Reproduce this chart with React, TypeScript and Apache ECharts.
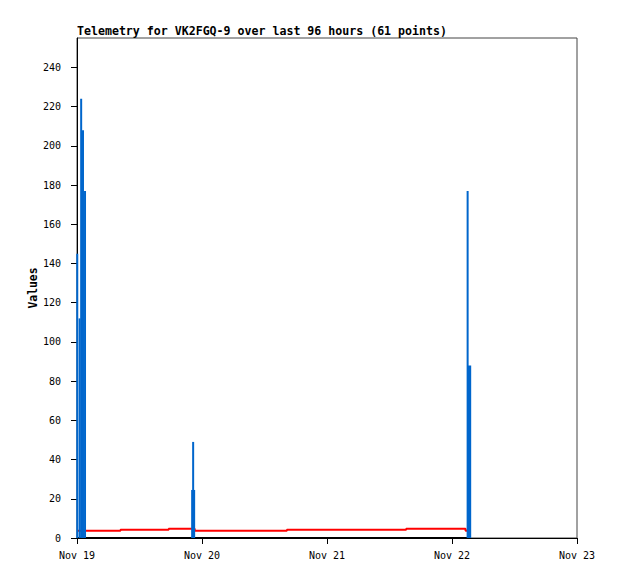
import React, { useEffect, useRef } from "react";
import * as echarts from "echarts";

// hours since Nov 19 00:00
const xTickHours = [0, 24, 48, 72, 96];
const xTickLabels = ["Nov 19", "Nov 20", "Nov 21", "Nov 22", "Nov 23"];
const yTickValues = [0, 20, 40, 60, 80, 100, 120, 140, 160, 180, 200, 220, 240];

// thin blue impulses
const thinHours = [0.05, 0.5, 0.8, 1.15, 1.54, 22.3, 75.0];
const thinValues = [145, 112, 224, 208, 177, 49, 177];
// wide blue impulses
const wideHours = [22.3, 75.3];
const wideValues = [24.5, 88];

// red step line
const redHours = [0, 8.35, 17.6, 22.6, 40.3, 63.2, 74.6, 75.1];
const redValues = [3.7, 4.2, 4.7, 3.7, 4.2, 4.7, 3.7, 3.7];

// black zero line
const zeroHours = [0, 75.1];
const zeroValues = [0, 0];

const MONO = "'DejaVu Sans Mono', 'Liberation Mono', monospace";

function impulse(width: number, color: string) {
  return (params: any, api: any) => {
    const x = api.value(0);
    const v = api.value(1);
    const top = api.coord([x, v]);
    const base = api.coord([x, 0]);
    return {
      type: "rect",
      shape: { x: top[0] - width / 2, y: top[1], width: width, height: base[1] - top[1] },
      style: { fill: color },
    };
  };
}

export default function App() {
  const ref = useRef<HTMLDivElement>(null);
  useEffect(() => {
    const chart = echarts.init(ref.current!, null, { renderer: "svg" });
    chart.setOption({
      animation: false,
      backgroundColor: "#ffffff",
      title: {
        text: "Telemetry for VK2FGQ-9 over last 96 hours (61 points)",
        left: 77,
        top: 25,
        padding: 0,
        textStyle: { fontFamily: MONO, fontSize: 11.6, fontWeight: "bold", color: "#000" },
      },
      grid: {
        left: 77,
        top: 38,
        width: 500,
        height: 500,
        show: true,
        borderColor: "#444",
        borderWidth: 1,
        backgroundColor: "transparent",
      },
      xAxis: {
        type: "value",
        min: 0,
        max: 96,
        interval: 24,
        axisLine: { lineStyle: { color: "#000", width: 1 } },
        axisTick: { show: true, length: 6, lineStyle: { color: "#000" }, customValues: xTickHours },
        axisLabel: {
          customValues: xTickHours,
          margin: 12,
          fontFamily: MONO,
          fontSize: 10,
          color: "#000",
          formatter: (v: number) => xTickLabels[xTickHours.indexOf(v)] ?? "",
        },
        splitLine: { show: false },
      },
      yAxis: {
        type: "value",
        min: 0,
        max: 255,
        name: "Values",
        nameLocation: "middle",
        nameGap: 39,
        nameMoveOverlap: false,
        nameTextStyle: { fontFamily: MONO, fontSize: 11.4, fontWeight: "bold", color: "#000" },
        axisLine: { show: true, lineStyle: { color: "#000", width: 1 } },
        axisTick: { show: true, length: 6, lineStyle: { color: "#000" }, customValues: yTickValues },
        axisLabel: {
          customValues: yTickValues,
          margin: 16,
          fontFamily: MONO,
          fontSize: 10,
          color: "#000",
        },
        splitLine: { show: false },
      },
      series: [
        {
          type: "line",
          data: zeroHours.map((h, i) => [h, zeroValues[i]]),
          showSymbol: false,
          lineStyle: { color: "#000", width: 2 },
          z: 2,
        },
        {
          type: "line",
          step: "end",
          data: redHours.map((h, i) => [h, redValues[i]]),
          showSymbol: false,
          lineStyle: { color: "#ff0000", width: 2 },
          z: 3,
        },
        {
          type: "custom",
          renderItem: impulse(4, "#0066cc"),
          data: wideHours.map((h, i) => [h, wideValues[i]]),
          encode: { x: 0, y: 1 },
          z: 4,
        },
        {
          type: "custom",
          renderItem: impulse(2, "#0066cc"),
          data: thinHours.map((h, i) => [h, thinValues[i]]),
          encode: { x: 0, y: 1 },
          clip: false,
          z: 5,
        },
      ],
    });
    return () => chart.dispose();
  }, []);
  return (
    <div
      ref={ref}
      style={{ position: "fixed", left: 0, top: 0, width: 618, height: 579, background: "#fff" }}
    />
  );
}
